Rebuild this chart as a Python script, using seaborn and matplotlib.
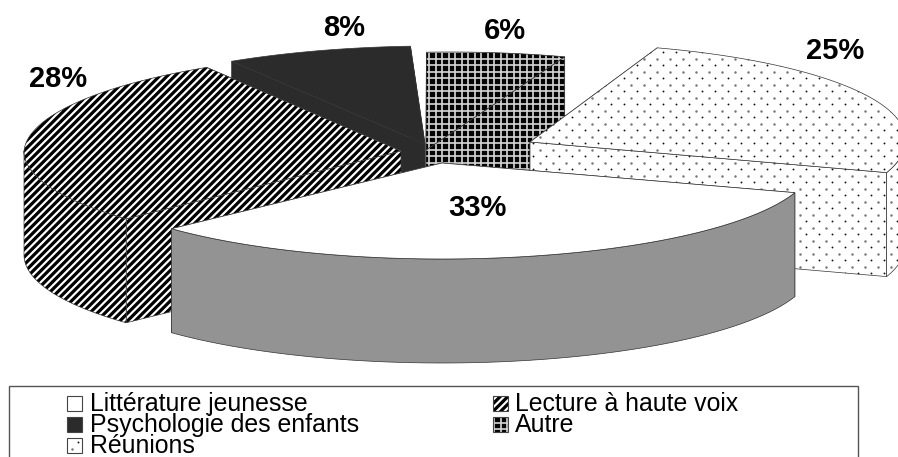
import numpy as np
import seaborn as sns
import matplotlib
matplotlib.use("Agg")
import matplotlib.pyplot as plt
from matplotlib.collections import LineCollection
from matplotlib.patches import Polygon

categories = ["Littérature jeunesse", "Lecture à haute voix", "Psychologie des enfants", "Autre", "Réunions"]
values = [33, 28, 8, 6, 25]

# layout of each exploded slice, pixels of the 898x457 picture
center_x = [442, 401, 425, 426, 530]
center_y = [163, 151, 144, 150, 142]
radius_x = [371, 377, 375, 375, 375]
radius_y = [96, 99, 98, 98, 99]
shear = [0, 9, 9, 24, 12]
label_x = [477, 58, 344, 505, 835]
label_y = [208, 79, 28, 31, 51]
legend_x = [67, 493, 67, 493, 67]
legend_base = [411, 411, 432, 432, 453]
styles = ["white", "stripes", "dark", "grid", "dots"]
START_ANGLE = 342
DEPTH = 104
EDGE = "#333333"

sns.set_theme(style="white")
plt.rcParams["font.family"] = ["Liberation Sans", "DejaVu Sans"]

fig = plt.figure(figsize=(8.98, 4.57), dpi=100)
ax = fig.add_axes([0, 0, 1, 1])
ax.set_xlim(0, 898)
ax.set_ylim(457, 0)
ax.axis("off")


def clipped_lines(segments, patch, color, lw, z):
    lc = LineCollection(segments, colors=color, linewidths=lw, zorder=z, capstyle="butt")
    ax.add_collection(lc)
    lc.set_clip_path(patch)


def fill(pts, style, z, edge=EDGE, lw=0.5):
    pts = np.asarray(pts)
    base = {"white": "white", "stripes": "white", "dark": "#2b2b2b", "grid": "#050505",
            "dots": "white", "gray": "#939393"}[style]
    patch = Polygon(pts, closed=True, facecolor=base, edgecolor="none", zorder=z)
    ax.add_patch(patch)
    x0, y0 = pts.min(axis=0) - 8
    x1, y1 = pts.max(axis=0) + 8
    if style == "stripes":
        # x + y stays constant along a stripe, so walls and top line up
        seg = []
        for c in np.arange(np.floor((x0 + y0) / 7.6) * 7.6, x1 + y1 + 8, 7.6):
            seg.append([(c - y0, y0), (c - y1, y1)])
        clipped_lines(seg, patch, "black", 2.3, z)
    elif style == "grid":
        seg = [[(x, y0), (x, y1)] for x in np.arange(np.floor(x0 / 6.5) * 6.5, x1, 6.5)]
        seg += [[(x0, y), (x1, y)] for y in np.arange(np.floor(y0 / 6.5) * 6.5, y1, 6.5)]
        clipped_lines(seg, patch, "#d8d8d8", 1.2, z)
    elif style == "dots":
        for k in range(int(y0 // 6.5), int(y1 // 6.5) + 1):
            xs = np.arange(np.floor(x0 / 13) * 13 + (k % 2) * 6.5, x1, 13.0)
            color, size = ("#777777", 3.2) if k % 2 else ("#111111", 1.8)
            sc = ax.scatter(xs, np.full(len(xs), k * 6.5), s=size, color=color, linewidths=0, zorder=z)
            sc.set_clip_path(patch)
    if edge:
        ax.add_patch(Polygon(pts, closed=True, facecolor="none", edgecolor=edge, linewidth=lw, zorder=z))


def rim(i, t):
    t = np.radians(t)
    x = center_x[i] + radius_x[i] * np.cos(t) + shear[i] * np.clip(np.sin(t), 0, None)
    y = center_y[i] - radius_y[i] * np.sin(t)
    return np.column_stack([x, y])


def front_span(hi, lo):
    # part of the arc on the near half of the ellipse, where the wall shows
    for a, b in ((360, 180), (0, -180)):
        top, bottom = min(hi, a), max(lo, b)
        if top > bottom:
            return top, bottom
    return None


# slices go clockwise, painted back to front
angles = START_ANGLE - np.cumsum([0] + [v * 3.6 for v in values])
z = 2
for i in [3, 2, 4, 1, 0]:
    arc = rim(i, np.linspace(angles[i], angles[i + 1], 80))
    apex = np.array([center_x[i], center_y[i]])
    down = np.array([0, DEPTH])
    side_style = "gray" if styles[i] == "white" else styles[i]
    # cut faces first, the nearer one on top, then the outer wall and the top
    for end in sorted((arc[0], arc[-1]), key=lambda p: p[1]):
        fill([apex, end, end + down, apex + down], side_style, z)
        z += 1
    span = front_span(angles[i], angles[i + 1])
    if span:
        wall = rim(i, np.linspace(span[0], span[1], 60))
        fill(np.vstack([wall, (wall + down)[::-1]]), side_style, z)
        z += 1
    fill(np.vstack([apex, arc]), styles[i], z)
    z += 1

for i, v in enumerate(values):
    ax.text(label_x[i], label_y[i], f"{v}%", ha="center", va="center",
            fontsize=21, fontweight="bold", color="black", zorder=50)

# legend
ax.add_patch(Polygon([(9, 470), (9, 385.5), (858, 385.5), (858, 470)], closed=False,
                     facecolor="white", edgecolor="#555555", linewidth=1.0, zorder=40))
for i, name in enumerate(categories):
    kx = legend_x[i]
    by = legend_base[i]
    box = [(kx, by - 15), (kx + 15, by - 15), (kx + 15, by), (kx, by)]
    fill(box, styles[i], 41, edge="#444444", lw=0.8)
    ax.text(kx + (23 if kx < 100 else 22), by, name, ha="left", va="baseline", fontsize=17.9,
            color="black", zorder=45)

fig.savefig("out.png", dpi=100)
